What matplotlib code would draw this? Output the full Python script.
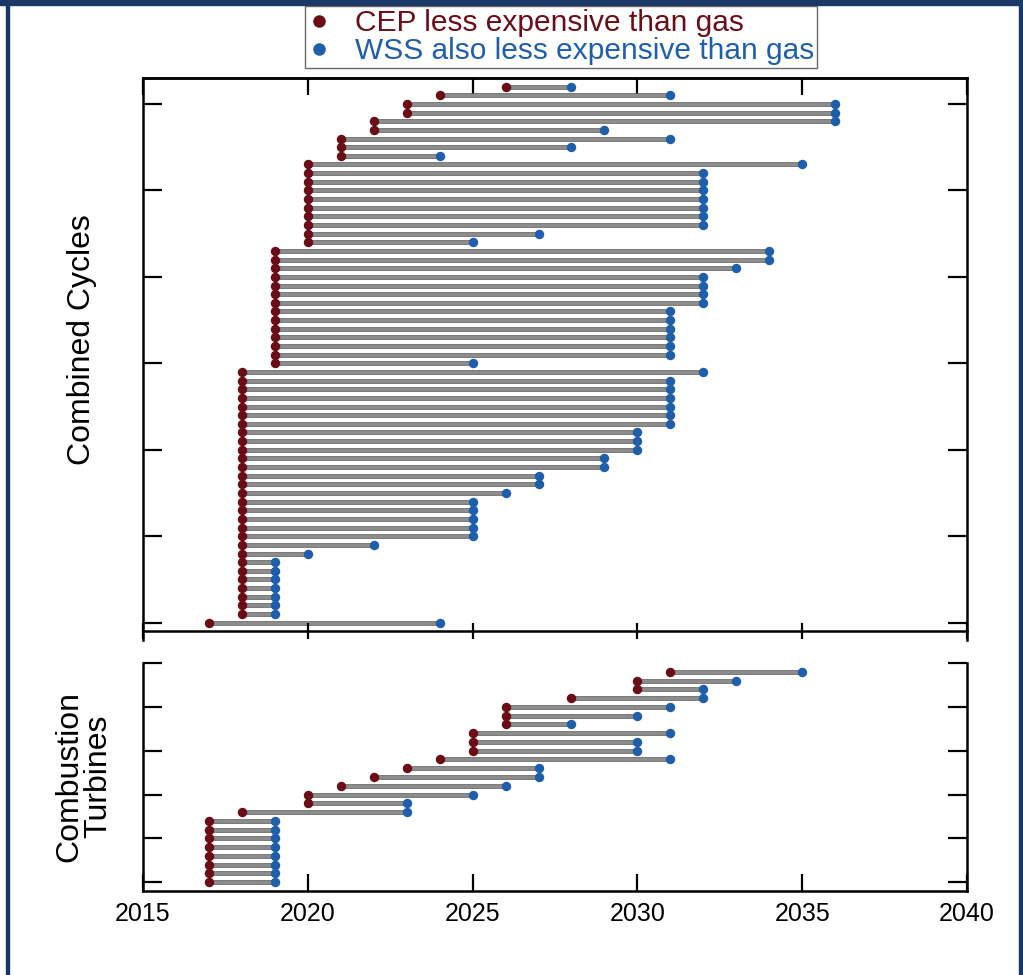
import numpy as np
import matplotlib.pyplot as plt
import matplotlib.patheffects as pe
from matplotlib.lines import Line2D
from matplotlib.patches import Rectangle

plt.rcParams['font.family'] = ['Liberation Sans', 'DejaVu Sans']

RED = '#6b0d17'
BLUE = '#1f5eab'
NAVY = '#1b3966'

# combined cycles, listed top row first: year CEP cheaper than gas, year WSS also cheaper
cc_cep = [2026, 2024, 2023, 2023, 2022, 2022, 2021, 2021, 2021,
          2020, 2020, 2020, 2020, 2020, 2020, 2020, 2020, 2020, 2020,
          2019, 2019, 2019, 2019, 2019, 2019, 2019, 2019, 2019, 2019, 2019, 2019, 2019, 2019,
          2018, 2018, 2018, 2018, 2018, 2018, 2018, 2018, 2018, 2018, 2018, 2018, 2018, 2018,
          2018, 2018, 2018, 2018, 2018, 2018, 2018, 2018, 2018, 2018, 2018, 2018, 2018, 2018,
          2018, 2017]
cc_wss = [2028, 2031, 2036, 2036, 2036, 2029, 2031, 2028, 2024,
          2035, 2032, 2032, 2032, 2032, 2032, 2032, 2032, 2027, 2025,
          2034, 2034, 2033, 2032, 2032, 2032, 2032, 2031, 2031, 2031, 2031, 2031, 2031, 2025,
          2032, 2031, 2031, 2031, 2031, 2031, 2031, 2030, 2030, 2030, 2029, 2029, 2027, 2027,
          2026, 2025, 2025, 2025, 2025, 2025, 2022, 2020, 2019, 2019, 2019, 2019, 2019, 2019,
          2019, 2024]

# combustion turbines, top row first
ct_cep = [2031, 2030, 2030, 2028, 2026, 2026, 2026, 2025, 2025, 2025, 2024, 2023, 2022,
          2021, 2020, 2020, 2018, 2017, 2017, 2017, 2017, 2017, 2017, 2017, 2017]
ct_wss = [2035, 2033, 2032, 2032, 2031, 2030, 2028, 2031, 2030, 2030, 2031, 2027, 2027,
          2026, 2025, 2023, 2023, 2019, 2019, 2019, 2019, 2019, 2019, 2019, 2019]

years = [2015, 2020, 2025, 2030, 2035, 2040]


def draw_rows(ax, cep, wss):
    y = np.arange(len(cep))[::-1]
    ax.hlines(y, cep, wss, color='#8e8e8e', lw=2.1, zorder=1,
              path_effects=[pe.Stroke(linewidth=3.3, foreground='#5c5c5c'), pe.Normal()])
    ax.plot(cep, y, 'o', color=RED, ms=6.8, mec='none', zorder=3)
    ax.plot(wss, y, 'o', color=BLUE, ms=6.8, mec='none', zorder=3)


W, H = 1023, 975
fig = plt.figure(figsize=(W / 100, H / 100), dpi=100)

ax1 = fig.add_axes([143 / W, 1 - 640 / H, 824 / W, 562 / H])
ax2 = fig.add_axes([143 / W, 1 - 891 / H, 824 / W, 228 / H])

draw_rows(ax1, cc_cep, cc_wss)
draw_rows(ax2, ct_cep, ct_wss)

for ax in (ax1, ax2):
    ax.set_xlim(2015, 2040)
    ax.set_xticks(years)
    for s in ax.spines.values():
        s.set_linewidth(1.8)
    ax.tick_params(axis='y', left=True, right=True, direction='in',
                   length=14, width=1.6, labelleft=False)

# top panel
ax1.set_ylim(-2, 63)
ax1.set_yticks(np.arange(0, 61, 10))
ax1.spines['bottom'].set_position(('data', -1))
ax1.tick_params(axis='x', bottom=True, top=False, direction='inout',
                length=12, width=1.6, labelbottom=False)
top = ax1.secondary_xaxis('top')
top.set_xticks(years)
top.tick_params(direction='in', length=12, width=1.6, labeltop=False)
top.spines['top'].set_linewidth(1.8)

# bottom panel
ax2.set_ylim(-1, 25)
ax2.set_yticks(np.arange(0, 26, 5))
ax2.spines['top'].set_visible(False)
ax2.tick_params(axis='x', bottom=True, top=False, direction='in',
                length=12, width=1.6, labelsize=18, pad=8)

fig.text(82 / W, 1 - 340 / H, 'Combined Cycles', rotation=90,
         ha='center', va='center', fontsize=23)
fig.text(84 / W, 1 - 776 / H, 'Combustion\nTurbines', rotation=90,
         ha='center', va='center', fontsize=23, linespacing=0.95)

handles = [Line2D([], [], marker='o', ls='none', color=RED, ms=8),
           Line2D([], [], marker='o', ls='none', color=BLUE, ms=8)]
leg = fig.legend(handles, ['CEP less expensive than gas', 'WSS also less expensive than gas'],
                 loc='upper center', bbox_to_anchor=(561 / W, 1 - 6 / H),
                 fontsize=21.5, frameon=True, fancybox=False, edgecolor='#444444',
                 handlelength=0.7, handletextpad=0.85, labelspacing=0.0,
                 borderpad=0.1, borderaxespad=0)
leg.get_frame().set_linewidth(1.0)
for t, c in zip(leg.get_texts(), [RED, BLUE]):
    t.set_color(c)

# navy frame around the slide
fig.patches.append(Rectangle((0, 1 - 5 / H), 1, 5 / H, transform=fig.transFigure,
                             color=NAVY, zorder=0))
fig.patches.append(Rectangle((6 / W, 0), 2.5 / W, 1, transform=fig.transFigure,
                             color=NAVY, zorder=0))
fig.patches.append(Rectangle((1019 / W, 0), 2.5 / W, 1, transform=fig.transFigure,
                             color=NAVY, zorder=0))

fig.savefig('out.png', dpi=100)
